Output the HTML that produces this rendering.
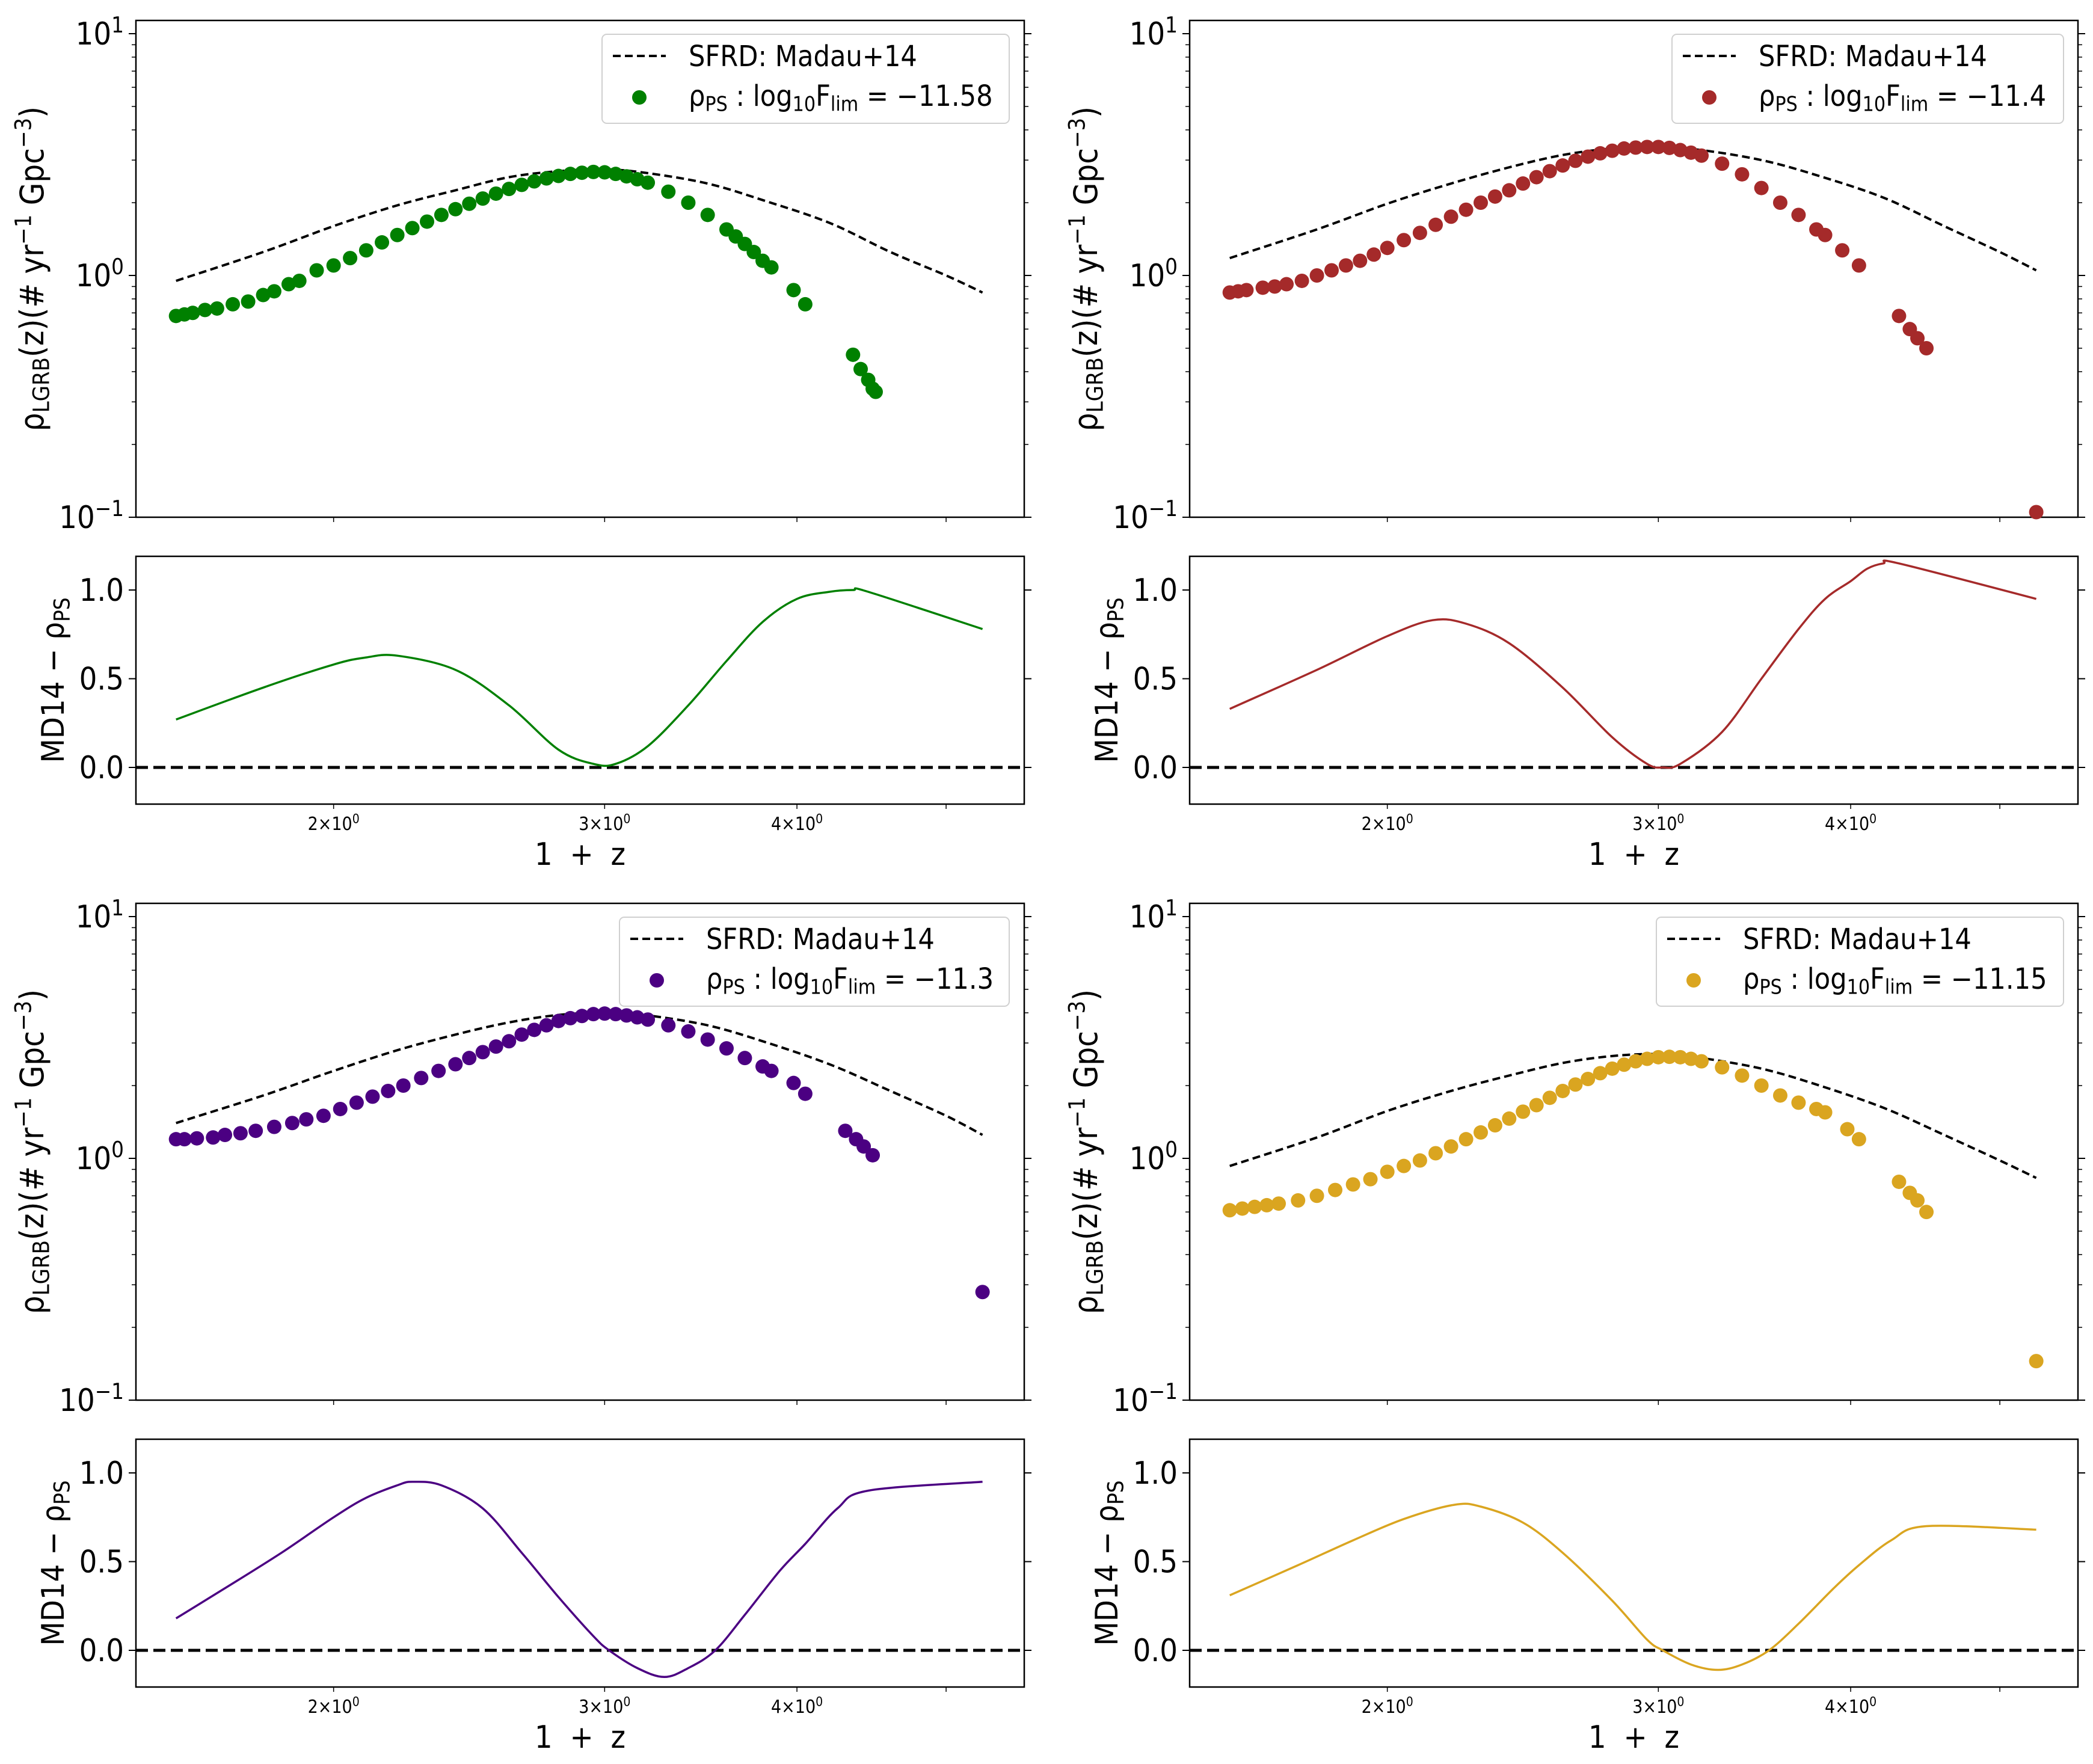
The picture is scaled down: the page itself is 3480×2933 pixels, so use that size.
<!DOCTYPE html>
<html><head><meta charset="utf-8">
<style>
html,body{margin:0;padding:0;background:#fff;}
svg{display:block;font-family:"DejaVu Sans Condensed","DejaVu Sans","Liberation Sans",sans-serif;}
</style></head>
<body>
<svg id="fig" width="3480" height="2933" viewBox="0 0 3480 2933" xmlns="http://www.w3.org/2000/svg"></svg>
<script>
// ---- data (1+z values and densities) ----
const sfrdX = [1.58,1.8,2.0,2.2,2.4,2.6,2.8,3.0,3.2,3.5,3.8,4.2,4.6,5.0,5.28];
const sfrdTL = [0.95,1.25,1.6,1.95,2.25,2.55,2.7,2.75,2.65,2.4,2.05,1.65,1.25,1.0,0.85];
const sfrdTR = [1.18,1.55,1.98,2.4,2.8,3.15,3.35,3.4,3.3,3.0,2.6,2.1,1.6,1.25,1.05];
const sfrdBL = [1.4,1.82,2.3,2.8,3.25,3.65,3.92,4.0,3.9,3.55,3.05,2.45,1.9,1.5,1.25];
const sfrdBR = [0.93,1.22,1.57,1.9,2.2,2.48,2.65,2.7,2.6,2.35,2.02,1.62,1.25,0.98,0.83];

const ptsXTL = [1.58,1.6,1.62,1.65,1.68,1.72,1.76,1.8,1.83,1.87,1.9,1.95,2.0,2.05,2.1,2.15,2.2,2.25,2.3,2.35,2.4,2.45,2.5,2.55,2.6,2.65,2.7,2.75,2.8,2.85,2.9,2.95,3.0,3.05,3.1,3.15,3.2,3.3,3.4,3.5,3.6,3.65,3.7,3.75,3.8,3.85,3.98,4.05,4.35,4.4,4.45,4.48,4.5];
const ptsYTL = [0.68,0.69,0.7,0.72,0.73,0.76,0.78,0.83,0.86,0.92,0.95,1.05,1.1,1.18,1.27,1.37,1.47,1.57,1.67,1.78,1.88,1.98,2.08,2.18,2.28,2.37,2.45,2.52,2.58,2.63,2.66,2.68,2.67,2.63,2.57,2.5,2.42,2.22,2.0,1.78,1.55,1.45,1.35,1.25,1.15,1.08,0.87,0.76,0.47,0.41,0.37,0.34,0.33];

const ptsXTR = [1.58,1.6,1.62,1.66,1.69,1.72,1.76,1.8,1.84,1.88,1.92,1.96,2.0,2.05,2.1,2.15,2.2,2.25,2.3,2.35,2.4,2.45,2.5,2.55,2.6,2.65,2.7,2.75,2.8,2.85,2.9,2.95,3.0,3.05,3.1,3.15,3.2,3.3,3.4,3.5,3.6,3.7,3.8,3.85,3.95,4.05,4.3,4.37,4.42,4.48,5.28];
const ptsYTR = [0.85,0.86,0.87,0.89,0.9,0.92,0.95,1.0,1.05,1.1,1.15,1.22,1.3,1.4,1.5,1.62,1.75,1.87,2.0,2.12,2.25,2.4,2.55,2.7,2.85,2.98,3.1,3.2,3.28,3.35,3.38,3.4,3.4,3.37,3.3,3.22,3.13,2.9,2.62,2.3,2.0,1.78,1.55,1.47,1.27,1.1,0.68,0.6,0.55,0.5,0.105];

const ptsXBL = [1.58,1.6,1.63,1.67,1.7,1.74,1.78,1.83,1.88,1.92,1.97,2.02,2.07,2.12,2.17,2.22,2.28,2.34,2.4,2.45,2.5,2.55,2.6,2.65,2.7,2.75,2.8,2.85,2.9,2.95,3.0,3.05,3.1,3.15,3.2,3.3,3.4,3.5,3.6,3.7,3.8,3.85,3.98,4.05,4.3,4.37,4.42,4.48,5.28];
const ptsYBL = [1.2,1.2,1.21,1.22,1.25,1.27,1.3,1.35,1.4,1.45,1.5,1.6,1.7,1.8,1.9,2.0,2.15,2.3,2.45,2.6,2.75,2.9,3.05,3.25,3.4,3.55,3.7,3.8,3.88,3.95,3.97,3.95,3.9,3.83,3.75,3.55,3.35,3.1,2.85,2.6,2.4,2.3,2.05,1.85,1.3,1.2,1.12,1.03,0.28];

const ptsXBR = [1.58,1.61,1.64,1.67,1.7,1.75,1.8,1.85,1.9,1.95,2.0,2.05,2.1,2.15,2.2,2.25,2.3,2.35,2.4,2.45,2.5,2.55,2.6,2.65,2.7,2.75,2.8,2.85,2.9,2.95,3.0,3.05,3.1,3.15,3.2,3.3,3.4,3.5,3.6,3.7,3.8,3.85,3.98,4.05,4.3,4.37,4.42,4.48,5.28];
const ptsYBR = [0.61,0.62,0.63,0.64,0.65,0.67,0.7,0.74,0.78,0.82,0.88,0.93,0.98,1.05,1.12,1.2,1.28,1.37,1.46,1.56,1.66,1.78,1.9,2.02,2.13,2.25,2.35,2.44,2.52,2.58,2.62,2.63,2.62,2.58,2.52,2.38,2.2,2.0,1.82,1.7,1.6,1.55,1.32,1.2,0.8,0.72,0.67,0.6,0.145];

const resXTL = [1.58,1.8,2.0,2.1,2.2,2.4,2.6,2.8,2.95,3.05,3.2,3.4,3.6,3.8,4.0,4.2,4.35,4.45,5.28];
const resYTL = [0.27,0.45,0.58,0.62,0.63,0.55,0.35,0.1,0.02,0.02,0.12,0.35,0.6,0.82,0.95,0.99,1.0,0.99,0.78];
const resXTR = [1.58,1.8,2.0,2.14,2.25,2.4,2.6,2.8,2.95,3.02,3.1,3.3,3.5,3.7,3.85,4.0,4.1,4.2,4.3,5.28];
const resYTR = [0.33,0.55,0.74,0.83,0.81,0.7,0.45,0.17,0.02,0.0,0.02,0.2,0.5,0.78,0.95,1.05,1.12,1.15,1.15,0.95];
const resXBL = [1.58,1.7,1.85,2.0,2.1,2.2,2.25,2.35,2.5,2.65,2.8,2.95,3.02,3.15,3.28,3.4,3.54,3.7,3.9,4.05,4.25,4.45,5.28];
const resYBL = [0.18,0.35,0.55,0.75,0.86,0.93,0.95,0.93,0.8,0.55,0.3,0.08,0.0,-0.1,-0.15,-0.1,0.0,0.2,0.45,0.6,0.8,0.9,0.95];
const resXBR = [1.58,1.75,1.9,2.05,2.21,2.3,2.45,2.6,2.8,2.95,3.02,3.15,3.28,3.4,3.54,3.7,3.9,4.05,4.25,4.48,5.28];
const resYBR = [0.31,0.48,0.62,0.74,0.82,0.81,0.72,0.55,0.28,0.06,0.0,-0.08,-0.11,-0.08,0.0,0.15,0.35,0.48,0.62,0.7,0.68];

const flimLabels = ["\u221211.58","\u221211.4","\u221211.3","\u221211.15"];

// ---- layout ----
const NS="http://www.w3.org/2000/svg";
const svg=document.getElementById('fig');
const L=226,R=1703,MT=34,MB=860,RT=925,RB=1337;
const XLO=Math.log10(1.488),XHI=Math.log10(5.62);
function xs(v){return L+(Math.log10(v)-XLO)/(XHI-XLO)*(R-L);}
function ym(v){return MB-(Math.log10(v)+1)*402;}
function yr(v){return 1276-v*295;}
function mk(tag,attrs,parent){const e=document.createElementNS(NS,tag);for(const k in attrs)e.setAttribute(k,attrs[k]);(parent||svg).appendChild(e);return e;}
function smooth(P){
  let d='M'+P[0][0].toFixed(1)+','+P[0][1].toFixed(1);
  for(let i=0;i<P.length-1;i++){
    const p0=P[Math.max(i-1,0)],p1=P[i],p2=P[i+1],p3=P[Math.min(i+2,P.length-1)];
    const c1=[p1[0]+(p2[0]-p0[0])/6,p1[1]+(p2[1]-p0[1])/6];
    const c2=[p2[0]-(p3[0]-p1[0])/6,p2[1]-(p3[1]-p1[1])/6];
    d+=' C'+c1[0].toFixed(1)+','+c1[1].toFixed(1)+' '+c2[0].toFixed(1)+','+c2[1].toFixed(1)+' '+p2[0].toFixed(1)+','+p2[1].toFixed(1);
  }
  return d;}
function txt(parent,x,y,parts,size,anchor,extra){
  const t=mk('text',Object.assign({x:x,y:y,'font-size':size,'text-anchor':anchor||'start',fill:'#000'},extra||{}),parent);
  parts.forEach(p=>{const s=mk('tspan',{},t);s.textContent=p[0];
    if(p[1]==='sup'){s.setAttribute('dy',-size*0.38);s.setAttribute('font-size',size*0.7);}
    if(p[1]==='sub'){s.setAttribute('dy',size*0.18);s.setAttribute('font-size',size*0.7);}
    if(p[1]==='back'){s.setAttribute('dy',p[2]);}
  });return t;}

const panels=[
 {dx:0,dy:0,color:'#008000',sfrd:sfrdTL,px:ptsXTL,py:ptsYTL,rx:resXTL,ry:resYTL,lab:flimLabels[0],lx:1001,lw:677,key:'tl'},
 {dx:1752,dy:0,color:'#a52a2a',sfrd:sfrdTR,px:ptsXTR,py:ptsYTR,rx:resXTR,ry:resYTR,lab:flimLabels[1],lx:1028,lw:651,key:'tr'},
 {dx:0,dy:1468,color:'#4b0082',sfrd:sfrdBL,px:ptsXBL,py:ptsYBL,rx:resXBL,ry:resYBL,lab:flimLabels[2],lx:1030,lw:648,key:'bl'},
 {dx:1752,dy:1468,color:'#daa520',sfrd:sfrdBR,px:ptsXBR,py:ptsYBR,rx:resXBR,ry:resYBR,lab:flimLabels[3],lx:1002,lw:677,key:'br'}
];

panels.forEach(p=>{
  const g=mk('g',{transform:`translate(${p.dx},${p.dy})`});
  
  
  // ---- main axes ----
  const main=mk('g',{},g);
  
  
  mk('rect',{x:L,y:MT,width:R-L,height:MB-MT,fill:'none',stroke:'#000','stroke-width':2.5},main);
  [-1,0,1].forEach(e=>{const y=ym(Math.pow(10,e));
    mk('line',{x1:L-12,x2:L,y1:y,y2:y,stroke:'#000','stroke-width':2},main);
    mk('line',{x1:R,x2:R+12,y1:y,y2:y,stroke:'#000','stroke-width':2},main);
    const t=txt(main,L-20,y+18,[['10'],[e<0?'\u22121':String(e),'sup']],52,'end');
    
    
  });
  [-1,0].forEach(e=>{for(let m=2;m<=9;m++){const y=ym(m*Math.pow(10,e));
    mk('line',{x1:L-7,x2:L,y1:y,y2:y,stroke:'#000','stroke-width':1.5},main);
    mk('line',{x1:R,x2:R+7,y1:y,y2:y,stroke:'#000','stroke-width':1.5},main);}});
  [2,3,4,5].forEach(v=>{const x=xs(v);
    mk('line',{x1:x,x2:x,y1:MB,y2:MB+8,stroke:'#000','stroke-width':1.5},main);
    mk('line',{x1:x,x2:x,y1:RB,y2:RB+8,stroke:'#000','stroke-width':1.5},g);});
  // SFRD dashed
  const d=smooth(sfrdX.map((x,i)=>[xs(x),ym(p.sfrd[i])]));
  const sl=mk('path',{d:d,fill:'none',stroke:'#000','stroke-width':4,'stroke-dasharray':'13,7'},main);
  
  
  // points
  p.px.forEach((x,i)=>{const c=mk('circle',{cx:xs(x),cy:ym(p.py[i]),r:12,fill:p.color},main);
    
    });
  // y label
  const yl=txt(main,0,0,[['\u03C1'],['LGRB','sub'],['(z)(# yr',"back",-54*0.18],['\u22121','sup'],[' Gpc','back',54*0.38],['\u22123','sup'],[')','back',54*0.38]],54,'middle',{transform:`translate(72,447) rotate(-90)`});
  
  
  // legend
  const lg=mk('g',{},main);
  
  
  mk('rect',{x:p.lx,y:57,width:p.lw,height:148,rx:8,fill:'#fff','fill-opacity':0.85,stroke:'#d0d0d0','stroke-width':2},lg);
  const le1=mk('line',{x1:p.lx+18,x2:p.lx+106,y1:93,y2:93,stroke:'#000','stroke-width':4,'stroke-dasharray':'13,7'},lg);
  
  
  txt(lg,p.lx+144,110,[['SFRD: Madau+14']],48,'start');
  const le2=mk('circle',{cx:p.lx+62,cy:162,r:12,fill:p.color},lg);
  
  
  txt(lg,p.lx+144,176,[['\u03C1'],['PS','sub'],[' : log','back',-48*0.18],['10','sub'],['F','back',-48*0.18],['lim','sub'],[' = '+p.lab,'back',-48*0.18]],48,'start');
  // ---- residual axes ----
  const res=mk('g',{},g);
  
  
  mk('rect',{x:L,y:RT,width:R-L,height:RB-RT,fill:'none',stroke:'#000','stroke-width':2.5},res);
  [0,0.5,1.0].forEach(v=>{const y=yr(v);
    mk('line',{x1:L-12,x2:L,y1:y,y2:y,stroke:'#000','stroke-width':2},res);
    mk('line',{x1:R,x2:R+12,y1:y,y2:y,stroke:'#000','stroke-width':2},res);
    const t=txt(res,L-20,y+18,[[v.toFixed(1)]],52,'end');
    
    });
  const zl=mk('line',{x1:L,x2:R,y1:yr(0),y2:yr(0),stroke:'#000','stroke-width':5,'stroke-dasharray':'20,9'},res);
  
  
  const rd=smooth(p.rx.map((x,i)=>[xs(x),yr(p.ry[i])]));
  const rl=mk('path',{d:rd,fill:'none',stroke:p.color,'stroke-width':3.5,'stroke-linejoin':'round'},res);
  
  
  const ryl=txt(res,0,0,[['MD14 \u2212 \u03C1'],['PS','sub']],52,'middle',{transform:`translate(106,1131) rotate(-90)`});
  
  
  [2,3,4].forEach(v=>{const t=txt(res,xs(v),1380,[[v+'\u00D710'],['0','sup']],30,'middle');
    
    });
  const xl=txt(res,(L+R)/2,1438,[['1 + z']],52,'middle',{'xml:space':'preserve','word-spacing':'14'});
  
  
});
</script>
</body></html>
